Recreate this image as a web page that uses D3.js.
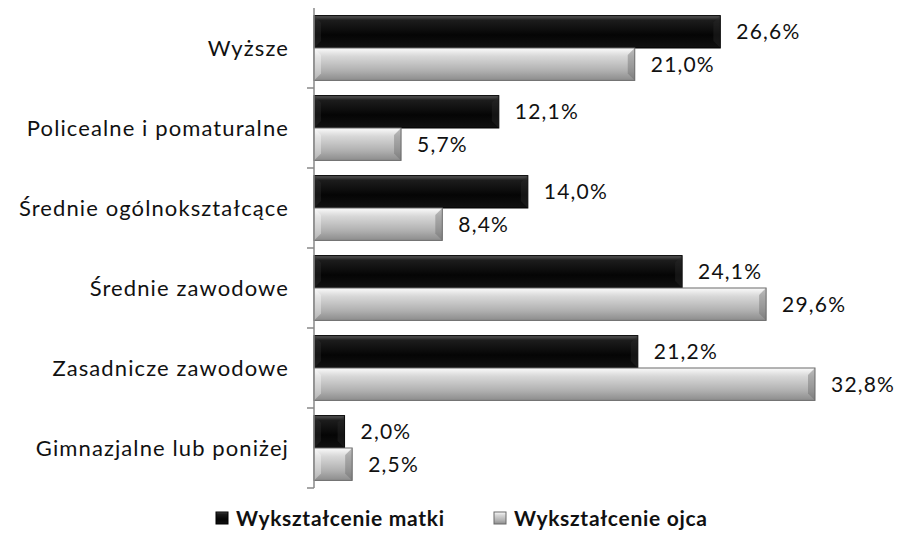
<!DOCTYPE html>
<html>
<head>
<meta charset="utf-8">
<script src="https://cdn.jsdelivr.net/npm/d3@7"></script>
<style>
  body { margin: 0; background: #fff; }
  text { font-family: Lato, "Open Sans", sans-serif; }
</style>
</head>
<body>
<div id="chart"></div>
<script>
// categories top to bottom
var categories = ["Wyższe", "Policealne i pomaturalne", "Średnie ogólnokształcące",
    "Średnie zawodowe", "Zasadnicze zawodowe", "Gimnazjalne lub poniżej"];
var seriesNames = ["Wykształcenie matki", "Wykształcenie ojca"];
var matki = [26.6, 12.1, 14.0, 24.1, 21.2, 2.0];
var ojca = [21.0, 5.7, 8.4, 29.6, 32.8, 2.5];

window.onload = start;

function start() {
    var width = 900;
    var height = 533;
    var axisX = 314;

    var svg = d3.select("#chart")
        .append("svg")
        .attr("width", width)
        .attr("height", height);

    var defs = svg.append("defs");

    // gradients for the two series
    var gBlack = defs.append("linearGradient").attr("id", "gBlack")
        .attr("x1", 0).attr("y1", 0).attr("x2", 0).attr("y2", 1);
    gBlack.append("stop").attr("offset", "0%").attr("stop-color", "#5a5a5a");
    gBlack.append("stop").attr("offset", "15%").attr("stop-color", "#1c1c1c");
    gBlack.append("stop").attr("offset", "60%").attr("stop-color", "#050505");
    gBlack.append("stop").attr("offset", "100%").attr("stop-color", "#111");

    var gGrey = defs.append("linearGradient").attr("id", "gGrey")
        .attr("x1", 0).attr("y1", 0).attr("x2", 0).attr("y2", 1);
    gGrey.append("stop").attr("offset", "0%").attr("stop-color", "#fbfbfb");
    gGrey.append("stop").attr("offset", "25%").attr("stop-color", "#d8d8d8");
    gGrey.append("stop").attr("offset", "70%").attr("stop-color", "#b0b0b0");
    gGrey.append("stop").attr("offset", "100%").attr("stop-color", "#8c8c8c");

    var x = d3.scaleLinear()
        .domain([0, 32.8])
        .range([axisX, 815]);

    var y0 = d3.scaleBand()
        .domain(categories)
        .range([8, 488])
        .paddingInner(0.19)
        .paddingOuter(0.095);

    var y1 = d3.scaleBand()
        .domain(seriesNames)
        .range([0, y0.bandwidth()]);

    var fills = ["url(#gBlack)", "url(#gGrey)"];
    var strokes = ["#000", "#6a6a6a"];

    var rows = [];
    categories.forEach(function (c, i) {
        rows.push({cat: c, s: 0, v: matki[i]});
        rows.push({cat: c, s: 1, v: ojca[i]});
    });

    var bars = svg.append("g").selectAll("g")
        .data(rows)
        .enter()
        .append("g")
        .attr("transform", function (d) {
            return "translate(0," + (y0(d.cat) + y1(seriesNames[d.s])) + ")";
        });

    bars.append("rect")
        .attr("x", x(0))
        .attr("y", 0)
        .attr("width", function (d) { return x(d.v) - x(0); })
        .attr("height", y1.bandwidth())
        .attr("fill", function (d) { return fills[d.s]; })
        .attr("stroke", function (d) { return strokes[d.s]; })
        .attr("stroke-width", 1);

    // bevel edges on left and right ends
    bars.append("path")
        .attr("d", function (d) {
            var w = x(d.v) - x(0), h = y1.bandwidth(), b = Math.min(7, w / 3);
            var x0 = x(0);
            return "M" + x0 + ",0L" + (x0 + b) + "," + b + "L" + (x0 + b) + "," + (h - b) + "L" + x0 + "," + h + "Z";
        })
        .attr("fill", function (d) { return d.s ? "#ffffff" : "#333"; })
        .attr("opacity", 0.35);
    bars.append("path")
        .attr("d", function (d) {
            var w = x(d.v) - x(0), h = y1.bandwidth(), b = Math.min(7, w / 3);
            var x1 = x(d.v);
            return "M" + x1 + ",0L" + (x1 - b) + "," + b + "L" + (x1 - b) + "," + (h - b) + "L" + x1 + "," + h + "Z";
        })
        .attr("fill", function (d) { return d.s ? "#666" : "#2a2a2a"; })
        .attr("opacity", 0.4);

    // value labels
    bars.append("text")
        .attr("x", function (d) { return x(d.v) + 16; })
        .attr("y", y1.bandwidth() / 2)
        .attr("dy", "0.36em")
        .attr("font-size", 21)
        .attr("letter-spacing", 1.2)
        .attr("fill", "#111")
        .text(function (d) { return d.v.toFixed(1).replace(".", ",") + "%"; });

    // category axis
    var axis = svg.append("g");
    axis.append("line")
        .attr("x1", axisX).attr("x2", axisX)
        .attr("y1", 8).attr("y2", 488)
        .attr("stroke", "#888").attr("stroke-width", 1.5);
    axis.selectAll("line.tick")
        .data(categories)
        .enter()
        .append("line")
        .attr("class", "tick")
        .attr("x1", axisX - 7).attr("x2", axisX)
        .attr("y1", function (d) { return y0(d) + y0.bandwidth() + y0.step() * 0.095; })
        .attr("y2", function (d) { return y0(d) + y0.bandwidth() + y0.step() * 0.095; })
        .attr("stroke", "#888").attr("stroke-width", 1.5);

    axis.selectAll("text")
        .data(categories)
        .enter()
        .append("text")
        .attr("x", 289)
        .attr("y", function (d) { return y0(d) + y0.bandwidth() / 2; })
        .attr("dy", "0.36em")
        .attr("text-anchor", "end")
        .attr("font-size", 22)
        .attr("letter-spacing", 1.1)
        .attr("fill", "#111")
        .text(function (d) { return d; });

    // legend
    var legX = [216, 494];
    var leg = svg.append("g").selectAll("g")
        .data(seriesNames)
        .enter()
        .append("g")
        .attr("transform", function (d, i) { return "translate(" + legX[i] + ",512)"; });
    leg.append("rect")
        .attr("width", 12).attr("height", 12)
        .attr("fill", function (d, i) { return fills[i]; })
        .attr("stroke", function (d, i) { return strokes[i]; });
    leg.append("text")
        .attr("x", 20)
        .attr("y", 6)
        .attr("dy", "0.36em")
        .attr("font-size", 21)
        .attr("font-weight", "bold")
        .attr("letter-spacing", 0.7)
        .attr("fill", "#111")
        .text(function (d) { return d; });
}
</script>
</body>
</html>
